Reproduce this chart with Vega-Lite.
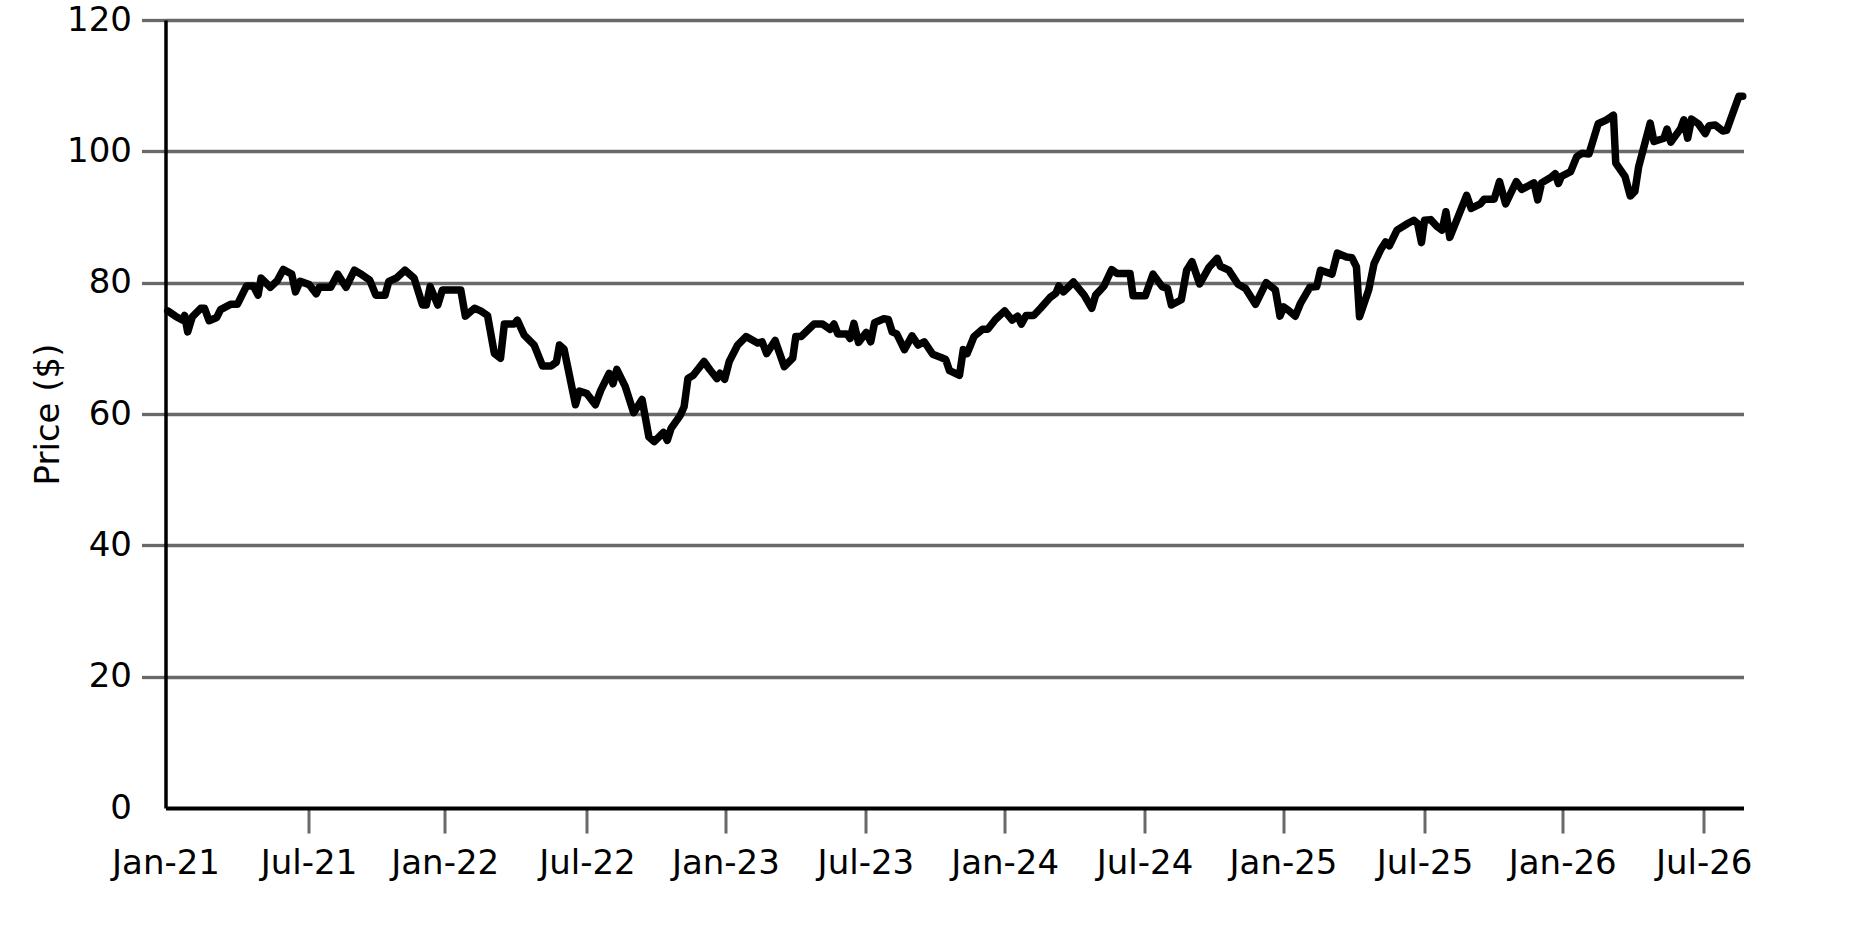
{
  "$schema": "https://vega.github.io/schema/vega-lite/v6.json",
  "width": 1578,
  "height": 788,
  "autosize": {"type": "none"},
  "padding": {"left": 165.5, "top": 20, "right": 131.5, "bottom": 130},
  "background": "white",
  "config": {"view": {"stroke": null}, "font": "DejaVu Sans"},
  "data": {"values": [
    {"date":"2021-01-04","price":75.7},{"date":"2021-01-14","price":74.9},{"date":"2021-01-23","price":74.3},{"date":"2021-01-26","price":75.0},{"date":"2021-01-30","price":72.5},{"date":"2021-02-05","price":74.8},{"date":"2021-02-16","price":76.1},{"date":"2021-02-21","price":76.1},{"date":"2021-02-27","price":74.2},{"date":"2021-03-09","price":74.7},{"date":"2021-03-14","price":75.9},{"date":"2021-03-27","price":76.7},{"date":"2021-04-05","price":76.7},{"date":"2021-04-17","price":79.5},{"date":"2021-04-26","price":79.5},{"date":"2021-05-02","price":78.1},{"date":"2021-05-06","price":80.7},{"date":"2021-05-18","price":79.3},{"date":"2021-05-27","price":80.3},{"date":"2021-06-04","price":82.0},{"date":"2021-06-15","price":81.3},{"date":"2021-06-20","price":78.6},{"date":"2021-06-26","price":80.2},{"date":"2021-07-08","price":79.7},{"date":"2021-07-17","price":78.3},{"date":"2021-07-21","price":79.3},{"date":"2021-08-05","price":79.3},{"date":"2021-08-14","price":81.3},{"date":"2021-08-25","price":79.3},{"date":"2021-09-05","price":81.9},{"date":"2021-09-15","price":81.2},{"date":"2021-09-25","price":80.4},{"date":"2021-10-03","price":78.1},{"date":"2021-10-15","price":78.1},{"date":"2021-10-20","price":80.2},{"date":"2021-10-30","price":80.7},{"date":"2021-11-10","price":81.9},{"date":"2021-11-22","price":80.7},{"date":"2021-12-03","price":76.6},{"date":"2021-12-08","price":76.6},{"date":"2021-12-13","price":79.4},{"date":"2021-12-23","price":76.6},{"date":"2021-12-29","price":78.9},
    {"date":"2022-01-22","price":78.9},{"date":"2022-01-28","price":74.9},{"date":"2022-02-09","price":76.1},{"date":"2022-02-17","price":75.7},{"date":"2022-02-26","price":75.0},{"date":"2022-03-07","price":69.2},{"date":"2022-03-15","price":68.5},{"date":"2022-03-20","price":73.7},{"date":"2022-04-02","price":73.7},{"date":"2022-04-06","price":74.3},{"date":"2022-04-15","price":72.0},{"date":"2022-04-28","price":70.5},{"date":"2022-05-09","price":67.3},{"date":"2022-05-20","price":67.3},{"date":"2022-05-27","price":67.9},{"date":"2022-05-31","price":70.5},{"date":"2022-06-06","price":69.9},{"date":"2022-06-21","price":61.4},{"date":"2022-06-26","price":63.5},{"date":"2022-07-06","price":63.1},{"date":"2022-07-17","price":61.4},{"date":"2022-07-24","price":63.6},{"date":"2022-08-04","price":66.2},{"date":"2022-08-09","price":64.6},{"date":"2022-08-14","price":66.8},{"date":"2022-08-25","price":64.2},{"date":"2022-09-05","price":60.2},{"date":"2022-09-16","price":62.2},{"date":"2022-09-25","price":56.5},{"date":"2022-10-02","price":55.8},{"date":"2022-10-14","price":57.2},{"date":"2022-10-19","price":56.0},{"date":"2022-10-24","price":57.8},{"date":"2022-11-05","price":59.8},{"date":"2022-11-10","price":61.1},{"date":"2022-11-15","price":65.4},{"date":"2022-11-22","price":65.9},{"date":"2022-12-06","price":68.0},{"date":"2022-12-14","price":66.7},{"date":"2022-12-23","price":65.4},{"date":"2022-12-27","price":66.2},{"date":"2023-01-02","price":65.3},
    {"date":"2023-01-08","price":68.0},{"date":"2023-01-19","price":70.5},{"date":"2023-01-30","price":71.8},{"date":"2023-02-14","price":70.8},{"date":"2023-02-20","price":71.0},{"date":"2023-02-26","price":69.2},{"date":"2023-03-09","price":71.2},{"date":"2023-03-21","price":67.2},{"date":"2023-04-01","price":68.5},{"date":"2023-04-05","price":71.8},{"date":"2023-04-12","price":71.8},{"date":"2023-04-29","price":73.7},{"date":"2023-05-10","price":73.7},{"date":"2023-05-20","price":72.9},{"date":"2023-05-25","price":73.7},{"date":"2023-05-30","price":72.2},{"date":"2023-06-11","price":72.2},{"date":"2023-06-15","price":71.5},{"date":"2023-06-20","price":73.8},{"date":"2023-06-26","price":70.9},{"date":"2023-07-06","price":72.4},{"date":"2023-07-12","price":71.0},{"date":"2023-07-17","price":73.9},{"date":"2023-07-29","price":74.5},{"date":"2023-08-04","price":74.4},{"date":"2023-08-09","price":72.5},{"date":"2023-08-15","price":72.2},{"date":"2023-08-25","price":69.8},{"date":"2023-09-04","price":71.9},{"date":"2023-09-12","price":70.5},{"date":"2023-09-20","price":71.0},{"date":"2023-10-01","price":69.1},{"date":"2023-10-12","price":68.6},{"date":"2023-10-18","price":68.3},{"date":"2023-10-23","price":66.6},{"date":"2023-11-05","price":65.9},{"date":"2023-11-10","price":69.8},{"date":"2023-11-15","price":69.2},{"date":"2023-11-24","price":71.8},{"date":"2023-12-05","price":72.9},{"date":"2023-12-12","price":72.9},{"date":"2023-12-22","price":74.4},{"date":"2024-01-03","price":75.7},
    {"date":"2024-01-13","price":74.3},{"date":"2024-01-20","price":74.9},{"date":"2024-01-25","price":73.7},{"date":"2024-01-31","price":75.0},{"date":"2024-02-10","price":75.0},{"date":"2024-02-19","price":76.1},{"date":"2024-03-03","price":77.8},{"date":"2024-03-10","price":78.4},{"date":"2024-03-14","price":79.5},{"date":"2024-03-20","price":78.6},{"date":"2024-04-02","price":80.1},{"date":"2024-04-16","price":78.1},{"date":"2024-04-26","price":76.1},{"date":"2024-05-01","price":78.1},{"date":"2024-05-12","price":79.5},{"date":"2024-05-22","price":82.0},{"date":"2024-05-29","price":81.4},{"date":"2024-06-15","price":81.4},{"date":"2024-06-19","price":78.0},{"date":"2024-07-05","price":78.0},{"date":"2024-07-15","price":81.3},{"date":"2024-07-27","price":79.4},{"date":"2024-08-03","price":79.1},{"date":"2024-08-08","price":76.6},{"date":"2024-08-21","price":77.4},{"date":"2024-08-28","price":81.9},{"date":"2024-09-04","price":83.2},{"date":"2024-09-14","price":79.8},{"date":"2024-09-26","price":82.3},{"date":"2024-10-07","price":83.7},{"date":"2024-10-11","price":82.5},{"date":"2024-10-22","price":81.9},{"date":"2024-11-03","price":79.8},{"date":"2024-11-13","price":79.1},{"date":"2024-11-26","price":76.7},{"date":"2024-12-10","price":80.0},{"date":"2024-12-22","price":78.9},{"date":"2024-12-28","price":74.9},{"date":"2025-01-02","price":76.3},
    {"date":"2025-01-08","price":75.8},{"date":"2025-01-17","price":74.9},{"date":"2025-01-24","price":76.9},{"date":"2025-02-05","price":79.3},{"date":"2025-02-14","price":79.4},{"date":"2025-02-19","price":81.9},{"date":"2025-03-06","price":81.3},{"date":"2025-03-13","price":84.5},{"date":"2025-03-25","price":83.9},{"date":"2025-04-01","price":83.8},{"date":"2025-04-07","price":82.4},{"date":"2025-04-11","price":74.8},{"date":"2025-04-23","price":78.9},{"date":"2025-04-30","price":82.9},{"date":"2025-05-09","price":85.1},{"date":"2025-05-15","price":86.2},{"date":"2025-05-20","price":85.6},{"date":"2025-05-30","price":88.0},{"date":"2025-06-13","price":89.0},{"date":"2025-06-21","price":89.5},{"date":"2025-06-26","price":89.0},{"date":"2025-07-01","price":86.1},{"date":"2025-07-05","price":89.5},{"date":"2025-07-13","price":89.6},{"date":"2025-07-21","price":88.6},{"date":"2025-07-28","price":88.0},{"date":"2025-08-02","price":90.8},{"date":"2025-08-07","price":86.9},{"date":"2025-08-17","price":89.8},{"date":"2025-08-29","price":93.3},{"date":"2025-09-04","price":91.3},{"date":"2025-09-16","price":92.0},{"date":"2025-09-21","price":92.7},{"date":"2025-10-04","price":92.7},{"date":"2025-10-11","price":95.4},{"date":"2025-10-19","price":92.0},{"date":"2025-11-02","price":95.4},{"date":"2025-11-09","price":94.2},{"date":"2025-11-25","price":95.2},{"date":"2025-11-30","price":92.6},{"date":"2025-12-05","price":95.2},{"date":"2025-12-18","price":96.1},{"date":"2025-12-23","price":96.6},{"date":"2025-12-27","price":95.1},{"date":"2025-12-31","price":96.2},
    {"date":"2026-01-12","price":96.9},{"date":"2026-01-20","price":99.2},{"date":"2026-01-27","price":99.7},{"date":"2026-02-05","price":99.6},{"date":"2026-02-17","price":104.2},{"date":"2026-02-28","price":104.8},{"date":"2026-03-09","price":105.5},{"date":"2026-03-12","price":98.2},{"date":"2026-03-24","price":96.2},{"date":"2026-03-31","price":93.2},{"date":"2026-04-06","price":93.9},{"date":"2026-04-11","price":97.7},{"date":"2026-04-19","price":101.2},{"date":"2026-04-26","price":104.3},{"date":"2026-05-01","price":101.5},{"date":"2026-05-14","price":102.0},{"date":"2026-05-18","price":103.4},{"date":"2026-05-23","price":101.4},{"date":"2026-06-05","price":103.5},{"date":"2026-06-09","price":104.8},{"date":"2026-06-14","price":102.0},{"date":"2026-06-19","price":104.9},{"date":"2026-06-28","price":104.2},{"date":"2026-07-07","price":102.7},{"date":"2026-07-12","price":103.9},{"date":"2026-07-20","price":104.0},{"date":"2026-07-30","price":103.1},{"date":"2026-08-04","price":103.2},{"date":"2026-08-20","price":108.4},{"date":"2026-08-25","price":108.4}
  ]},
  "mark": {"type": "line", "color": "black", "strokeWidth": 7.5, "strokeCap": "round", "strokeJoin": "round"},
  "encoding": {
    "x": {
      "field": "date",
      "type": "temporal",
      "scale": {"type": "utc", "domain": [{"year": 2021, "month": 1, "date": 1, "utc": true}, {"year": 2026, "month": 8, "date": 26, "utc": true}]},
      "axis": {
        "title": null,
        "values": [
          {"year": 2021, "month": 1, "date": 1, "utc": true}, {"year": 2021, "month": 7, "date": 7, "utc": true},
          {"year": 2022, "month": 1, "date": 1, "utc": true}, {"year": 2022, "month": 7, "date": 6, "utc": true},
          {"year": 2023, "month": 1, "date": 3, "utc": true}, {"year": 2023, "month": 7, "date": 5, "utc": true},
          {"year": 2024, "month": 1, "date": 3, "utc": true}, {"year": 2024, "month": 7, "date": 4, "utc": true},
          {"year": 2025, "month": 1, "date": 1, "utc": true}, {"year": 2025, "month": 7, "date": 5, "utc": true},
          {"year": 2026, "month": 1, "date": 1, "utc": true}, {"year": 2026, "month": 7, "date": 5, "utc": true}
        ],
        "labelExpr": "utcFormat(datum.value, '%b-%y')",
        "grid": false,
        "domainColor": "black",
        "domainWidth": 4,
        "tickColor": {"condition": {"test": "datum.value < utc(2021,0,2)", "value": "transparent"}, "value": "#696969"},
        "tickWidth": 3,
        "tickSize": 25,
        "labelPadding": 13,
        "labelFontSize": 34,
        "labelColor": "black",
        "labelFont": "DejaVu Sans",
        "labelFlush": false,
        "labelOverlap": false
      }
    },
    "y": {
      "field": "price",
      "type": "quantitative",
      "scale": {"domain": [0, 120], "nice": false, "zero": true},
      "axis": {
        "title": "Price ($)",
        "values": [0, 20, 40, 60, 80, 100, 120],
        "grid": true,
        "gridColor": {"condition": {"test": "datum.value === 0", "value": "transparent"}, "value": "#696969"},
        "gridWidth": 3.3,
        "domainColor": "black",
        "domainWidth": 3.5,
        "tickColor": {"condition": {"test": "datum.value === 0", "value": "transparent"}, "value": "#696969"},
        "tickWidth": 3.3,
        "tickSize": 24,
        "labelPadding": 10,
        "labelFontSize": 34,
        "labelColor": "black",
        "labelFont": "DejaVu Sans",
        "labelFlush": false,
        "titleFont": "DejaVu Sans",
        "titleFontSize": 34,
        "titleFontWeight": "normal",
        "titleColor": "black",
        "titlePadding": 1
      }
    }
  }
}
